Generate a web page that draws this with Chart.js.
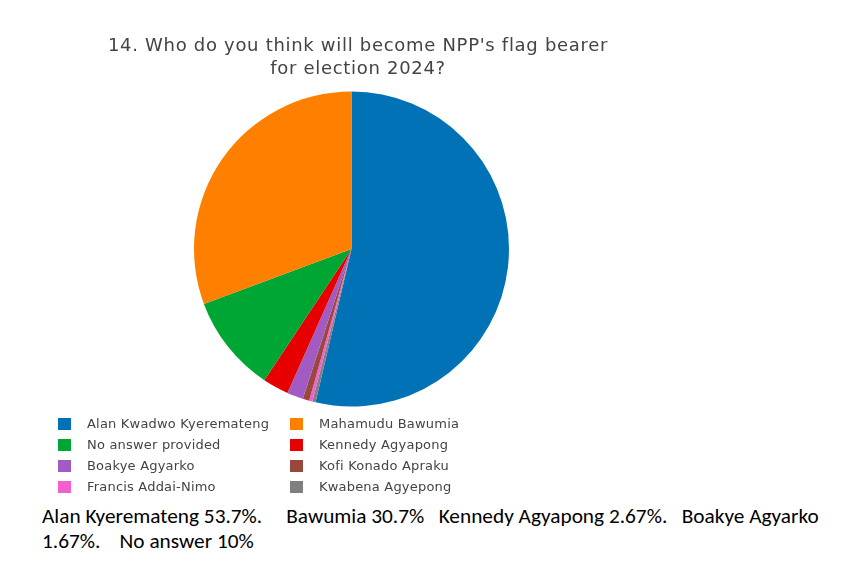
<!DOCTYPE html>
<html>
<head>
<meta charset="utf-8">
<script src="https://cdn.jsdelivr.net/npm/chart.js@4.4.1/dist/chart.umd.min.js"></script>
<style>
  body { margin: 0; background: #fff; }
  #page { position: relative; width: 860px; height: 566px; overflow: hidden; }
  #chartBox { position: absolute; left: 0; top: 0; width: 860px; height: 420px; }
  #title {
    position: absolute; left: 8px; width: 700px; top: 33px;
    text-align: center; font-family: "DejaVu Sans", Verdana, sans-serif;
    font-size: 18px; letter-spacing: 0.7px; line-height: 23px; color: #444;
  }
  #legend {
    position: absolute; left: 58px; top: 413px;
    display: grid; grid-template-columns: 232px 200px; row-gap: 0;
    font-family: "DejaVu Sans", Verdana, sans-serif; font-size: 13px;
    letter-spacing: 0.2px; color: #444;
  }
  .item { display: flex; align-items: center; height: 21px; }
  .swatch { width: 13px; height: 12px; margin-right: 16px; }
  #note {
    position: absolute; left: 42px; top: 504px;
    font-family: Carlito, Lato, sans-serif; font-size: 21.3px; line-height: 25px;
    color: #000; white-space: pre;
  }
</style>
</head>
<body>
<div id="page">
  <div id="chartBox"><canvas id="pie"></canvas></div>
  <div id="title">14. Who do you think will become NPP's flag bearer<br>for election 2024?</div>
  <div id="legend"></div>
  <div id="note">Alan Kyeremateng 53.7%.     Bawumia 30.7%   Kennedy Agyapong 2.67%.   Boakye Agyarko
1.67%.    No answer 10%</div>
</div>
<script>
const labels = [
  "Alan Kwadwo Kyeremateng",
  "Mahamudu Bawumia",
  "No answer provided",
  "Kennedy Agyapong",
  "Boakye Agyarko",
  "Kofi Konado Apraku",
  "Francis Addai-Nimo",
  "Kwabena Agyepong",
];
// number of responses (out of 300)
const counts = [161, 92, 30, 8, 5, 2, 1, 1];
const colors = [
  "#0172b6", "#ff7f00", "#00a633", "#e60000",
  "#a35bc4", "#98483d", "#f45fd0", "#808080",
];
// first slice from 12 o'clock clockwise, the rest come in reverse legend order
const drawOrder = [0, 7, 6, 5, 4, 3, 2, 1];

const ctx = document.getElementById("pie");
const pieChart = new Chart(ctx, {
  type: "pie",
  data: {
    labels: drawOrder.map((i) => labels[i]),
    datasets: [
      {
        data: drawOrder.map((i) => counts[i]),
        backgroundColor: drawOrder.map((i) => colors[i]),
        borderWidth: 0,
      },
    ],
  },
  options: {
    responsive: true,
    maintainAspectRatio: false,
    animation: false,
    layout: { padding: { left: 194, right: 351, top: 91.5, bottom: 13.5 } },
    plugins: {
      legend: { display: false },
      tooltip: { enabled: false },
    },
  },
});

// legend in the original two-column order
const legend = document.getElementById("legend");
labels.forEach((name, i) => {
  const item = document.createElement("div");
  item.classList.add("item");
  const sw = document.createElement("span");
  sw.classList.add("swatch");
  sw.style.background = colors[i];
  const txt = document.createElement("span");
  txt.innerText = name;
  item.appendChild(sw);
  item.appendChild(txt);
  legend.appendChild(item);
});
</script>
</body>
</html>
